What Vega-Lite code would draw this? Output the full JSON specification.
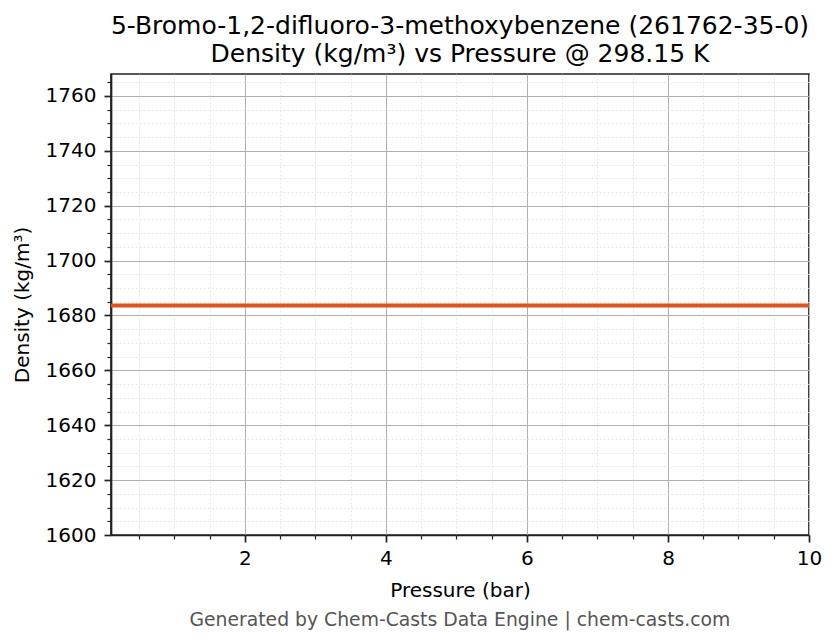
{
  "$schema": "https://vega.github.io/schema/vega-lite/v6.json",
  "background": "white",
  "padding": {"left": 11, "top": 13, "right": 20, "bottom": 8},
  "config": {
    "view": {"stroke": "#222222", "strokeWidth": 1.7},
    "font": "DejaVu Sans"
  },
  "title": {
    "text": "Generated by Chem-Casts Data Engine | chem-casts.com",
    "orient": "bottom",
    "anchor": "middle",
    "fontSize": 18.8,
    "font": "DejaVu Sans",
    "fontWeight": "normal",
    "color": "#555555",
    "offset": 10,
    "dx": 43
  },
  "data": {
    "values": [
      {"pressure": 0.1, "density": 1683.6},
      {"pressure": 1, "density": 1683.6},
      {"pressure": 2, "density": 1683.6},
      {"pressure": 3, "density": 1683.6},
      {"pressure": 4, "density": 1683.6},
      {"pressure": 5, "density": 1683.6},
      {"pressure": 6, "density": 1683.6},
      {"pressure": 7, "density": 1683.6},
      {"pressure": 8, "density": 1683.6},
      {"pressure": 9, "density": 1683.6},
      {"pressure": 10, "density": 1683.6}
    ]
  },
  "vconcat": [
    {
      "width": 698,
      "height": 461,
      "title": {
        "text": ["5-Bromo-1,2-difluoro-3-methoxybenzene (261762-35-0)", "Density (kg/m³) vs Pressure @ 298.15 K"],
        "anchor": "middle",
        "frame": "group",
        "fontSize": 25,
        "fontWeight": "normal",
        "font": "DejaVu Sans",
        "color": "black",
        "offset": 7,
        "lineHeight": 28
      },
      "layer": [
        {
          "mark": {"type": "line", "opacity": 0},
          "encoding": {
            "x": {
              "field": "pressure", "type": "quantitative",
              "scale": {"domain": [0.1, 10], "nice": false, "zero": false},
              "axis": {
                "orient": "bottom",
                "values": [0.5, 1, 1.5, 2.5, 3, 3.5, 4.5, 5, 5.5, 6.5, 7, 7.5, 8.5, 9, 9.5],
                "labels": false, "title": null, "domain": false,
                "tickSize": 4, "tickColor": "#222222", "tickWidth": 1.2,
                "grid": true, "gridColor": "#e0e0e0", "gridDash": [2, 2], "gridWidth": 0.8
              }
            },
            "y": {
              "field": "density", "type": "quantitative",
              "scale": {"domain": [1600, 1768], "nice": false, "zero": false},
              "axis": {
                "orient": "left",
                "values": [1605, 1610, 1615, 1625, 1630, 1635, 1645, 1650, 1655, 1665, 1670, 1675, 1685, 1690, 1695, 1705, 1710, 1715, 1725, 1730, 1735, 1745, 1750, 1755, 1765],
                "labels": false, "title": null, "domain": false,
                "tickSize": 4, "tickColor": "#222222", "tickWidth": 1.2,
                "grid": true, "gridColor": "#e0e0e0", "gridDash": [2, 2], "gridWidth": 0.8
              }
            }
          }
        },
        {
          "mark": {"type": "line", "color": "#e0531f", "strokeWidth": 4},
          "encoding": {
            "x": {
              "field": "pressure", "type": "quantitative",
              "scale": {"domain": [0.1, 10], "nice": false, "zero": false},
              "axis": {
                "orient": "bottom",
                "values": [2, 4, 6, 8, 10],
                "format": "d",
                "title": "Pressure (bar)",
                "labelFlush": false,
                "tickSize": 7, "tickWidth": 1.7, "tickColor": "#222222",
                "domainColor": "#222222", "domainWidth": 1.7,
                "grid": true, "gridColor": "#b0b0b0", "gridWidth": 1,
                "labelFontSize": 20, "labelColor": "black", "labelPadding": 6, "labelFont": "DejaVu Sans",
                "titleFontSize": 20, "titleFontWeight": "normal", "titleColor": "black", "titlePadding": 12, "titleFont": "DejaVu Sans"
              }
            },
            "y": {
              "field": "density", "type": "quantitative",
              "scale": {"domain": [1600, 1768], "nice": false, "zero": false},
              "axis": {
                "orient": "left",
                "values": [1600, 1620, 1640, 1660, 1680, 1700, 1720, 1740, 1760],
                "format": "d",
                "title": "Density (kg/m³)",
                "tickSize": 7, "tickWidth": 1.7, "tickColor": "#222222",
                "domainColor": "#222222", "domainWidth": 1.7,
                "grid": true, "gridColor": "#b0b0b0", "gridWidth": 1,
                "labelFontSize": 20, "labelColor": "black", "labelPadding": 8, "labelFont": "DejaVu Sans",
                "titleFontSize": 20, "titleFontWeight": "normal", "titleColor": "black", "titlePadding": 13, "titleFont": "DejaVu Sans"
              }
            }
          }
        }
      ],
      "resolve": {"axis": {"x": "independent", "y": "independent"}}
    }
  ]
}
